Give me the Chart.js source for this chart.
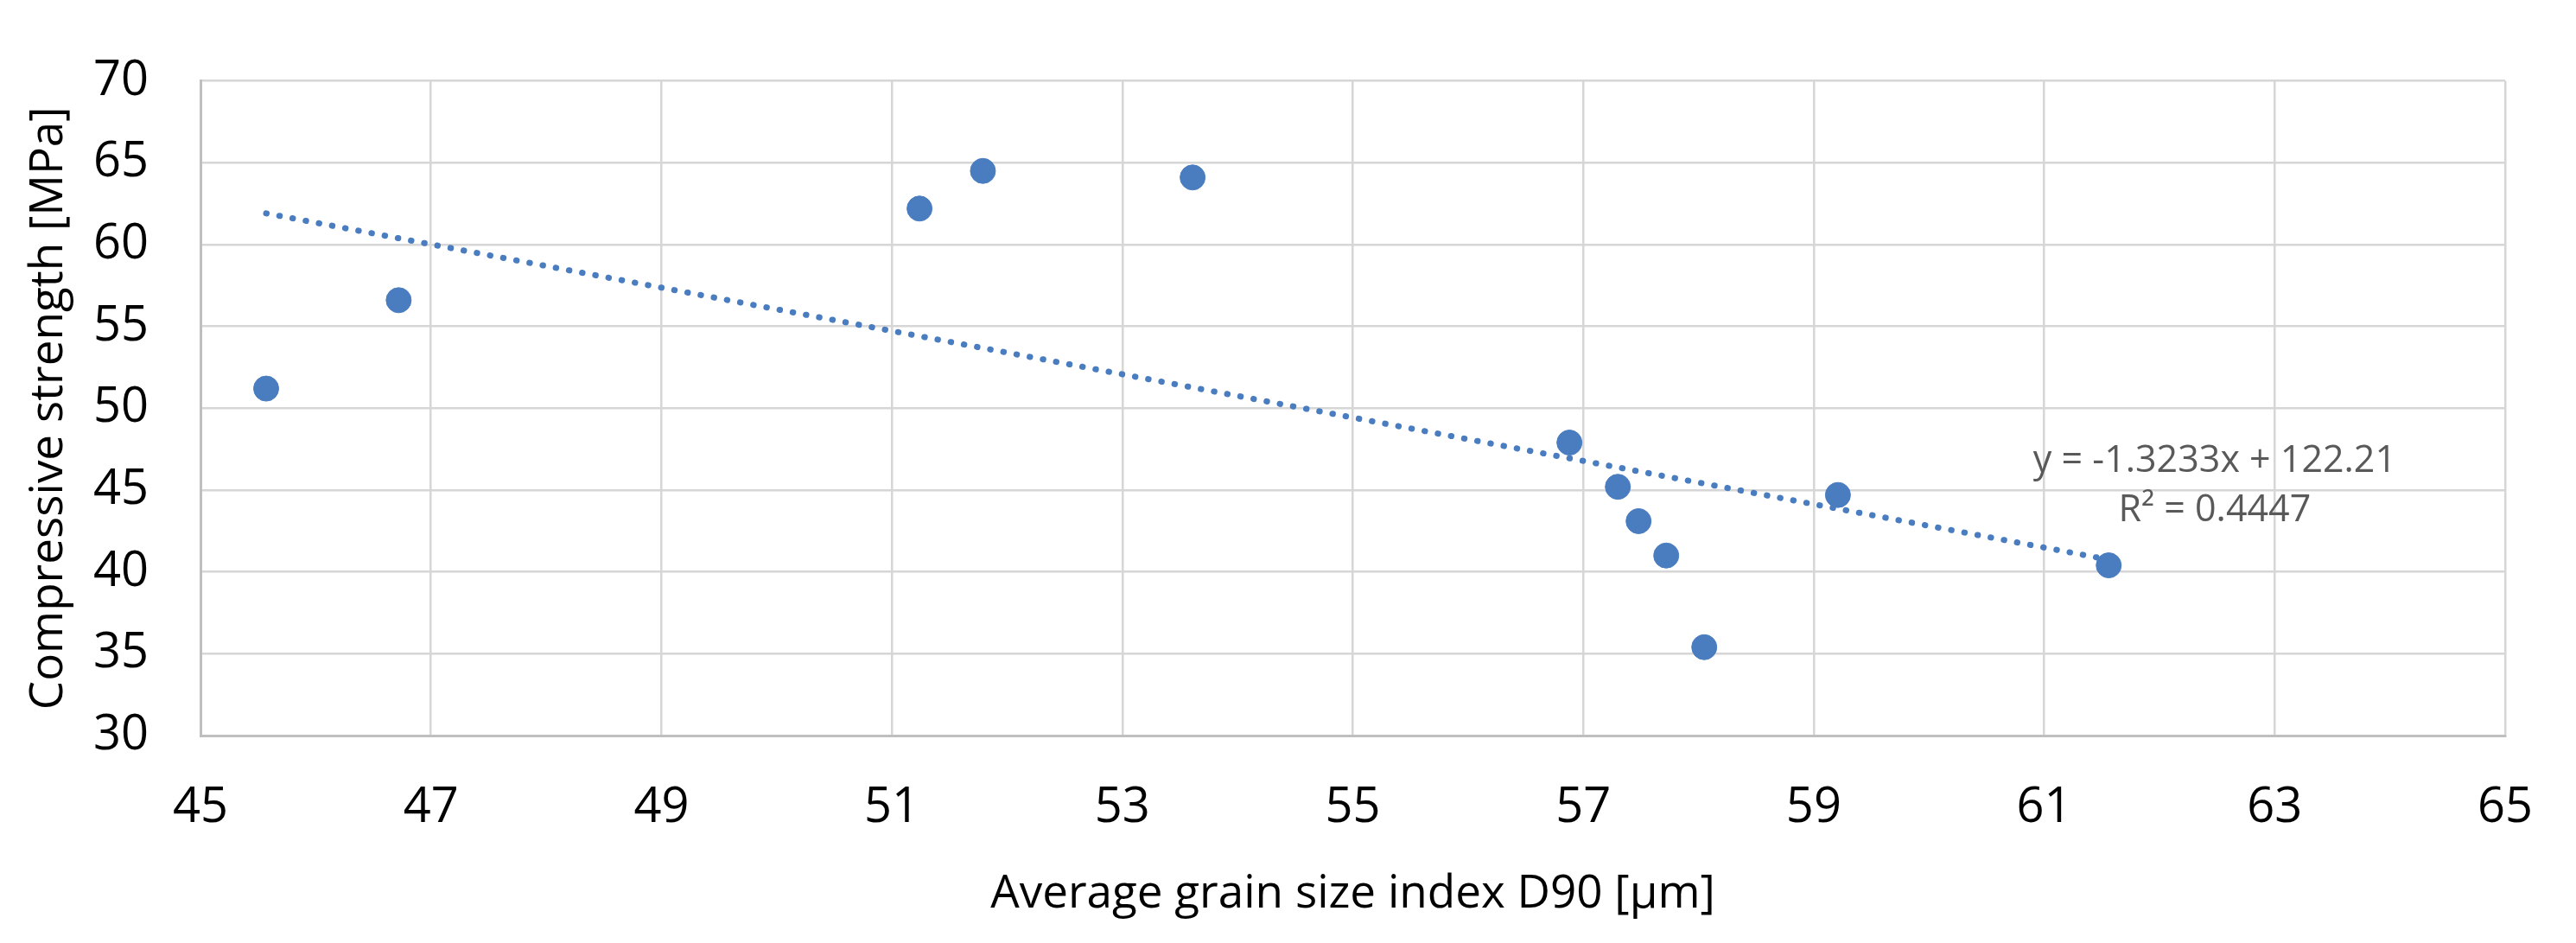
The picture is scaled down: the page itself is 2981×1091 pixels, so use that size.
<!DOCTYPE html>
<html>
<head>
<meta charset="utf-8">
<script src="https://cdn.jsdelivr.net/npm/chart.js@4.4.1/dist/chart.umd.min.js"></script>
<style>
    html, body { margin: 0; padding: 0; background: #fff; }
    #wrap { width: 2981px; height: 1091px; position: relative; }
</style>
</head>
<body>
<div id="wrap"><canvas id="chartStrength"></canvas></div>
<script>
// dados
const grainSize = [45.57, 46.72, 51.24, 51.79, 53.61, 56.88, 57.30, 57.48, 57.72, 58.05, 59.21, 61.56];
const strength = [51.2, 56.6, 62.2, 64.5, 64.1, 47.9, 45.2, 43.1, 41.0, 35.4, 44.7, 40.4];

// linha de tendencia (Excel)
const trendSlope = -1.3233;
const trendIntercept = 122.21;
const trendLabels = ["y = -1.3233x + 122.21", "R² = 0.4447"];
const trendLabelAt = [62.48, 46.75, 43.75]; // x, y linha 1, y linha 2

const xTicks = [45, 47, 49, 51, 53, 55, 57, 59, 61, 63, 65];
const yTicks = [30, 35, 40, 45, 50, 55, 60, 65, 70];

const points = grainSize.map((x, i) => ({ x: x, y: strength[i] }));
const xMin = Math.min(...grainSize);
const xMax = Math.max(...grainSize);
const trendPoints = [xMin, xMax].map(x => ({ x: x, y: trendSlope * x + trendIntercept }));

const BLUE = "#4a7dc0";
const FONT = "'Open Sans', sans-serif";

// desenha a equacao da tendencia
const trendText = {
    id: "trendText",
    afterDatasetsDraw(chart) {
        const { ctx, scales } = chart;
        const cx = scales.x.getPixelForValue(trendLabelAt[0]);
        ctx.save();
        ctx.fillStyle = "#595959";
        ctx.font = "43px " + FONT;
        ctx.textAlign = "center";
        ctx.textBaseline = "middle";
        ctx.fillText(trendLabels[0], cx, scales.y.getPixelForValue(trendLabelAt[1]));
        ctx.fillText(trendLabels[1], cx, scales.y.getPixelForValue(trendLabelAt[2]));
        ctx.restore();
    }
};

new Chart(document.getElementById("chartStrength"), {
    type: "scatter",
    data: {
        datasets: [{
            label: "Strength",
            data: points,
            backgroundColor: BLUE,
            borderColor: BLUE,
            pointRadius: 14.5,
            pointHoverRadius: 14.5,
            order: 1
        }, {
            label: "Linear",
            data: trendPoints,
            showLine: true,
            borderColor: BLUE,
            borderWidth: 7,
            borderDash: [0.5, 15],
            borderCapStyle: "round",
            pointRadius: 0,
            fill: false,
            order: 2
        }]
    },
    options: {
        responsive: true,
        maintainAspectRatio: false,
        animation: false,
        devicePixelRatio: 1,
        layout: { padding: { top: 43, right: 55, left: 0, bottom: 0 } },
        plugins: {
            legend: { display: false },
            tooltip: { enabled: false }
        },
        scales: {
            x: {
                type: "linear",
                min: 45,
                max: 65,
                afterBuildTicks: s => { s.ticks = xTicks.map(v => ({ value: v })); },
                afterFit: s => { s.height = 240; },
                grid: { color: "#d6d6d6", lineWidth: 2.5, drawTicks: false },
                border: { color: "#bfbfbf", width: 3 },
                ticks: { color: "#000", font: { family: FONT, size: 56 }, padding: 50, maxRotation: 0 },
                title: {
                    display: true,
                    text: "Average grain size index D90 [μm]",
                    color: "#000",
                    font: { family: FONT, size: 53 },
                    padding: { top: 0, bottom: 24 }
                }
            },
            y: {
                type: "linear",
                min: 30,
                max: 70,
                afterBuildTicks: s => { s.ticks = yTicks.map(v => ({ value: v })); },
                afterFit: s => { s.width = 232; },
                grid: { color: "#d6d6d6", lineWidth: 2.5, drawTicks: false },
                border: { color: "#bfbfbf", width: 3 },
                ticks: { color: "#000", font: { family: FONT, size: 56 }, padding: 60 },
                title: {
                    display: true,
                    text: "Compressive strength [MPa]",
                    color: "#000",
                    font: { family: FONT, size: 53 },
                    padding: { top: 25, bottom: 0 }
                }
            }
        }
    },
    plugins: [trendText]
});
</script>
</body>
</html>
